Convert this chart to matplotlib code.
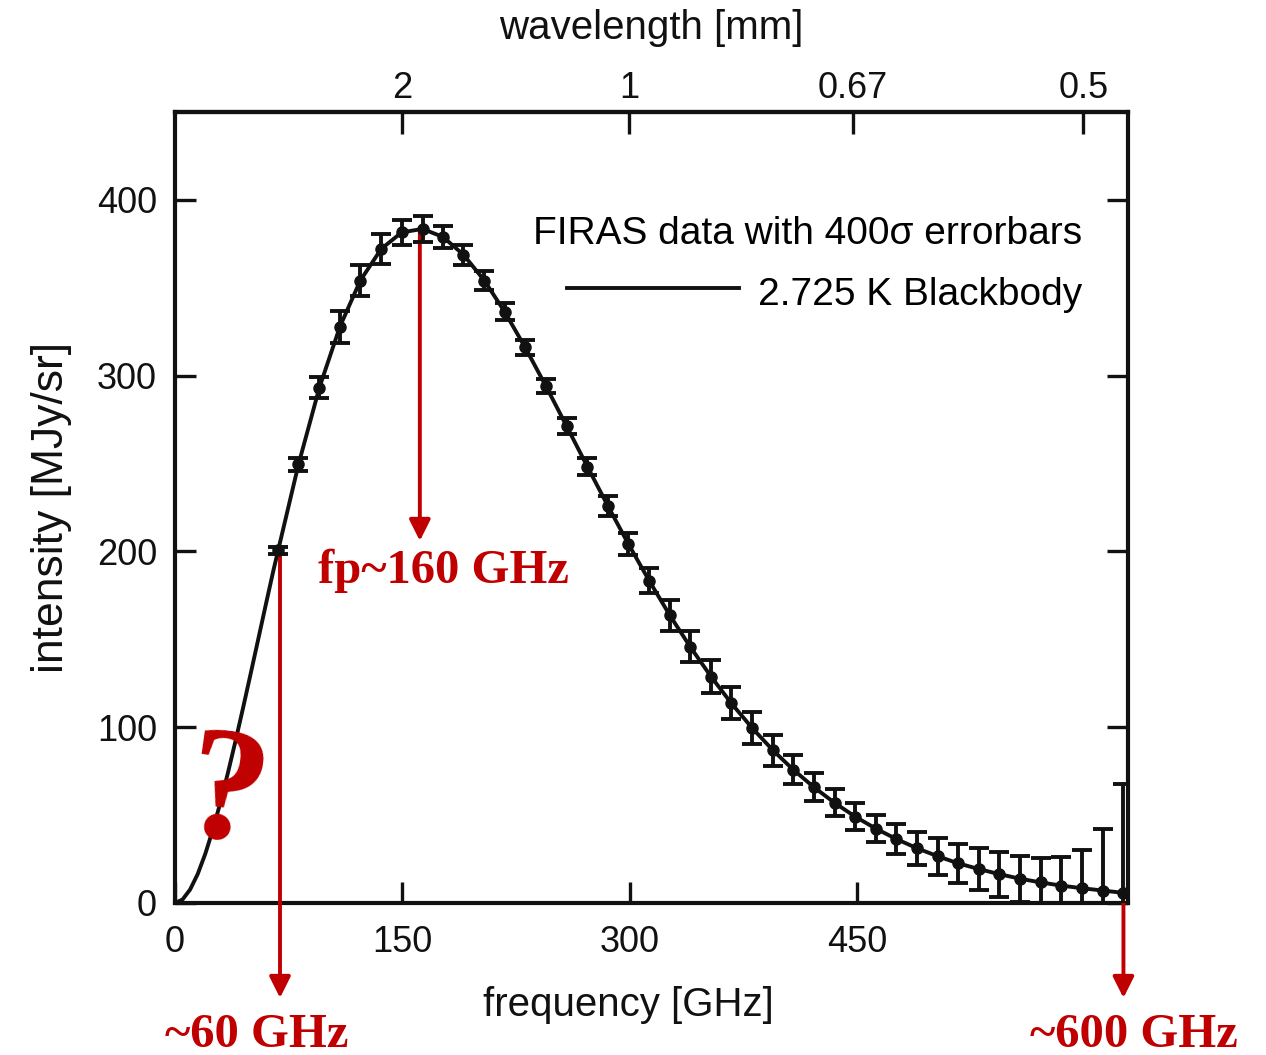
import matplotlib
matplotlib.use("Agg")

import matplotlib.pyplot as plt

plt.rcParams["font.family"] = ["Liberation Sans", "DejaVu Sans"]

RED = "#c00000"
INK = "#111111"

# FIRAS points (frequency in GHz, intensity in MJy/sr)
freq_ghz = [68.1, 81.5, 95.3, 108.8, 122.3, 136.1, 149.6, 163.4, 176.9, 190.4,
            204.2, 217.6, 231.1, 244.9, 258.4, 272.2, 285.7, 299.2, 313.0, 326.5,
            340.0, 353.8, 367.2, 381.0, 394.5, 408.0, 421.8, 435.3, 448.8, 462.6,
            476.1, 489.9, 503.4, 516.8, 530.6, 544.1, 557.9, 571.4, 584.9, 598.7,
            612.2, 625.7]
intensity = [200.7, 249.5, 293.2, 327.8, 354.1, 372.1, 381.5, 383.5, 378.9, 368.8,
             354.1, 336.3, 316.1, 293.9, 271.4, 248.2, 225.9, 204.3, 183.3, 163.8,
             145.8, 128.8, 113.6, 99.5, 87.0, 75.9, 65.8, 57.0, 49.2, 42.3,
             36.4, 31.1, 26.6, 22.6, 19.3, 16.4, 13.8, 11.7, 9.9, 8.4,
             7.1, 5.8]
# half-length of the (400 sigma) error bars, MJy/sr
err_400sig = [2.0, 3.6, 6.0, 9.2, 8.8, 8.4, 7.2, 7.2, 6.4, 5.6,
              5.2, 4.8, 4.4, 4.0, 4.4, 4.8, 5.6, 6.4, 7.2, 8.8,
              8.8, 9.2, 9.2, 9.2, 8.8, 8.4, 8.0, 7.6, 7.6, 7.6,
              8.4, 9.2, 10.4, 11.2, 12.0, 12.8, 13.2, 14.0, 16.4, 22.0,
              35.2, 62.0]

# blackbody line below the first FIRAS point and at the right edge
bb_low_freq = [0, 5, 10, 15, 20, 25, 30, 35, 40, 45, 50, 55, 60, 65]
bb_low_int = [0, 2.0, 7.7, 16.5, 28.0, 41.7, 57.3, 74.3, 92.4, 111.3, 130.7, 150.3, 170.0, 189.4]
bb_end_freq = [629]
bb_end_int = [5.5]

x_ticks = [0, 150, 300, 450]
y_ticks = [0, 100, 200, 300, 400]
wavelength_labels = ["2", "1", "0.67", "0.5"]
wavelength_mm = [2.0, 1.0, 0.67, 0.5]
C_MM_GHZ = 299.79

# red annotations: (x GHz, arrow start y, arrow end y, label, label x, label y)
arrows = [
    (161.6, 383, 206, "fp~160 GHz", 177, 189),
    (69.3, 198, -54, "~60 GHz", 54, -75),
    (626, 0, -54, "~600 GHz", 633, -75),
]

fig = plt.figure(figsize=(12.66, 10.55), dpi=100, facecolor="white")
ax = fig.add_axes([175 / 1266, 1 - 903 / 1055, 953 / 1266, 791 / 1055])

bb_x = bb_low_freq + freq_ghz + bb_end_freq
bb_y = bb_low_int + intensity + bb_end_int
line, = ax.plot(bb_x, bb_y, color=INK, linewidth=2.8, zorder=3)

ax.errorbar(freq_ghz, intensity, yerr=err_400sig, fmt="o", color=INK,
            markersize=8, elinewidth=2.8, capsize=7, capthick=2.8, zorder=4)

ax.set_xlim(0, 629)
ax.set_ylim(0, 450)
ax.set_xticks(x_ticks)
ax.set_yticks(y_ticks)
ax.tick_params(axis="both", direction="in", length=15, width=2.4,
               labelsize=26, colors=INK)
ax.tick_params(axis="x", pad=16)
ax.tick_params(axis="y", pad=13, right=True)
for spine in ax.spines.values():
    spine.set_linewidth(3)
    spine.set_color(INK)

ax.set_xlabel("frequency [GHz]", fontsize=29, color=INK, labelpad=22)
ax.xaxis.set_label_coords((628 - 175) / 953, -0.105)
ax.set_ylabel("intensity [MJy/sr]", fontsize=32, color=INK, labelpad=18)

top = ax.secondary_xaxis("top")
top.set_xticks([C_MM_GHZ / w for w in wavelength_mm])
top.set_xticklabels(wavelength_labels)
top.tick_params(direction="in", length=16, width=2.4, labelsize=26, pad=4, colors=INK)
top.spines["top"].set_linewidth(3)
top.set_xlabel("wavelength [mm]", fontsize=29, color=INK, labelpad=23)

leg = ax.legend([line], ["2.725 K Blackbody"], title="FIRAS data with 400σ errorbars",
                loc="upper right", bbox_to_anchor=(0.952, 0.868), frameon=False,
                fontsize=28, title_fontsize=28, handlelength=4.4, handletextpad=0.5,
                handleheight=1.2, borderpad=0, borderaxespad=0, alignment="right")
leg.get_lines()[0].set_linewidth(2.8)

for x, y0, y1, label, lx, ly in arrows:
    ax.annotate("", xy=(x, y1), xytext=(x, y0), annotation_clip=False,
                arrowprops=dict(arrowstyle="-|>", color=RED, lw=2.8,
                                mutation_scale=32, shrinkA=0, shrinkB=0))
    ax.text(lx, ly, label, color=RED, fontsize=35, fontweight="bold",
            family=["Liberation Serif", "DejaVu Serif"], ha="center", va="center",
            clip_on=False)

ax.text(33, 58, "?", color=RED, fontsize=118, fontweight="bold",
        family=["Liberation Serif", "DejaVu Serif"], ha="center", va="center",
        rotation=-8, zorder=5)

fig.savefig("out.png", dpi=100, facecolor="white")
